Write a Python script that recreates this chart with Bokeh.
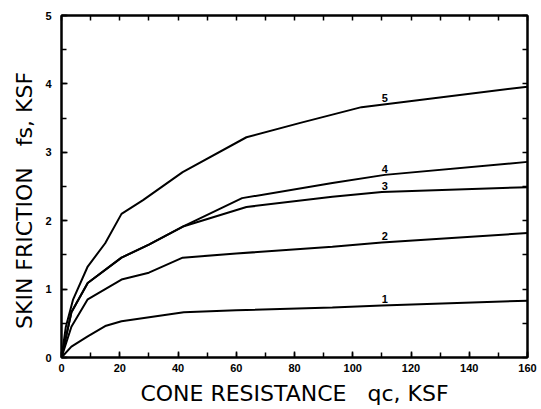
import numpy as np
from bokeh.plotting import figure
from bokeh.models import Range1d, LinearAxis, SingleIntervalTicker, FixedTicker
from bokeh.core.properties import value
from bokeh.embed import file_html
from bokeh.resources import INLINE

# cone resistance qc (KSF) vs skin friction fs (KSF), curves 1..5
q1 = [0, 3.4, 9, 15, 20.6, 42, 60, 93, 110, 160]
f1 = [0, 0.16, 0.31, 0.46, 0.53, 0.66, 0.69, 0.73, 0.76, 0.83]

q2 = [0, 3.4, 9, 20.6, 30, 41.6, 60, 93, 110, 160]
f2 = [0, 0.45, 0.85, 1.14, 1.24, 1.46, 1.52, 1.62, 1.68, 1.82]

q3 = [0, 3.4, 9, 20.6, 30, 42, 63.5, 93, 110, 160]
f3 = [0, 0.66, 1.09, 1.46, 1.65, 1.92, 2.20, 2.35, 2.42, 2.49]

q4 = [0, 3.4, 9, 20.6, 30, 42, 62, 93, 111, 160]
f4 = [0, 0.66, 1.09, 1.46, 1.65, 1.92, 2.33, 2.55, 2.67, 2.86]

q5 = [0, 1.5, 4, 9, 15, 20.6, 28, 41.6, 63.5, 82, 103, 160]
f5 = [0, 0.45, 0.85, 1.33, 1.67, 2.1, 2.3, 2.71, 3.22, 3.43, 3.66, 3.96]

curve_names = ["1", "2", "3", "4", "5"]
label_q = 111

x_tick_step = 20
y_tick_step = 1
x_minor_ticks = list(range(0, 161, 10))
y_minor_ticks = [i * 0.5 for i in range(0, 11)]

x_title = "CONE RESISTANCE\u00a0\u00a0\u00a0qc, KSF"
y_title = "SKIN FRICTION\u00a0\u00a0\u00a0fs, KSF\u00a0\u00a0\u00a0\u00a0"

FONT = "Liberation Sans"
TITLE_FONT = "DejaVu Sans"

p = figure(width=541, height=409, output_backend="svg", toolbar_location=None,
           x_range=Range1d(0, 160), y_range=Range1d(0, 5),
           x_axis_label=x_title, y_axis_label=y_title,
           min_border_left=61, min_border_right=14, min_border_top=15, min_border_bottom=52)

p.xgrid.visible = False
p.ygrid.visible = False
p.outline_line_color = "black"
p.outline_line_width = 2
p.background_fill_color = "white"
p.border_fill_color = "white"

p.xaxis.ticker = SingleIntervalTicker(interval=x_tick_step, num_minor_ticks=2)
p.yaxis.ticker = SingleIntervalTicker(interval=y_tick_step, num_minor_ticks=2)

for ax in [p.xaxis[0], p.yaxis[0]]:
    ax.axis_line_width = 2
    ax.axis_line_color = "black"
    ax.major_tick_in = 6
    ax.major_tick_out = 0
    ax.minor_tick_in = 5
    ax.minor_tick_out = 0
    ax.major_tick_line_width = 1.5
    ax.minor_tick_line_width = 1.5
    ax.major_label_text_font = FONT
    ax.major_label_text_font_style = "bold"
    ax.major_label_text_font_size = "11px"
    ax.major_label_text_color = "black"
    ax.axis_label_text_font = TITLE_FONT
    ax.axis_label_text_font_style = "normal"
    ax.axis_label_text_font_size = "22px"
    ax.axis_label_text_color = "black"

p.xaxis.major_label_standoff = 6
p.xaxis.axis_label_standoff = 6
p.yaxis.major_label_standoff = 10
p.yaxis.axis_label_standoff = 5

# mirrored ticks on top and right (no labels)
top = LinearAxis(ticker=FixedTicker(ticks=[], minor_ticks=x_minor_ticks))
right = LinearAxis(ticker=FixedTicker(ticks=[], minor_ticks=y_minor_ticks))
for ax in [top, right]:
    ax.axis_line_width = 2
    ax.major_tick_in = 0
    ax.major_tick_out = 0
    ax.minor_tick_in = 5
    ax.minor_tick_out = 0
    ax.minor_tick_line_width = 1.5
p.add_layout(top, "above")
p.add_layout(right, "right")

curves = [(q1, f1), (q2, f2), (q3, f3), (q4, f4), (q5, f5)]
for (q, f), name in zip(curves, curve_names):
    p.line(q, f, line_color="black", line_width=2)
    ly = float(np.interp(label_q, q, f))
    p.text([label_q], [ly], text=[name], text_font=value(FONT), text_font_style="bold",
           text_font_size="11px", text_align="center", text_baseline="bottom",
           y_offset=-2, text_color="black")

open("out.html", "w").write(file_html(p, INLINE))
